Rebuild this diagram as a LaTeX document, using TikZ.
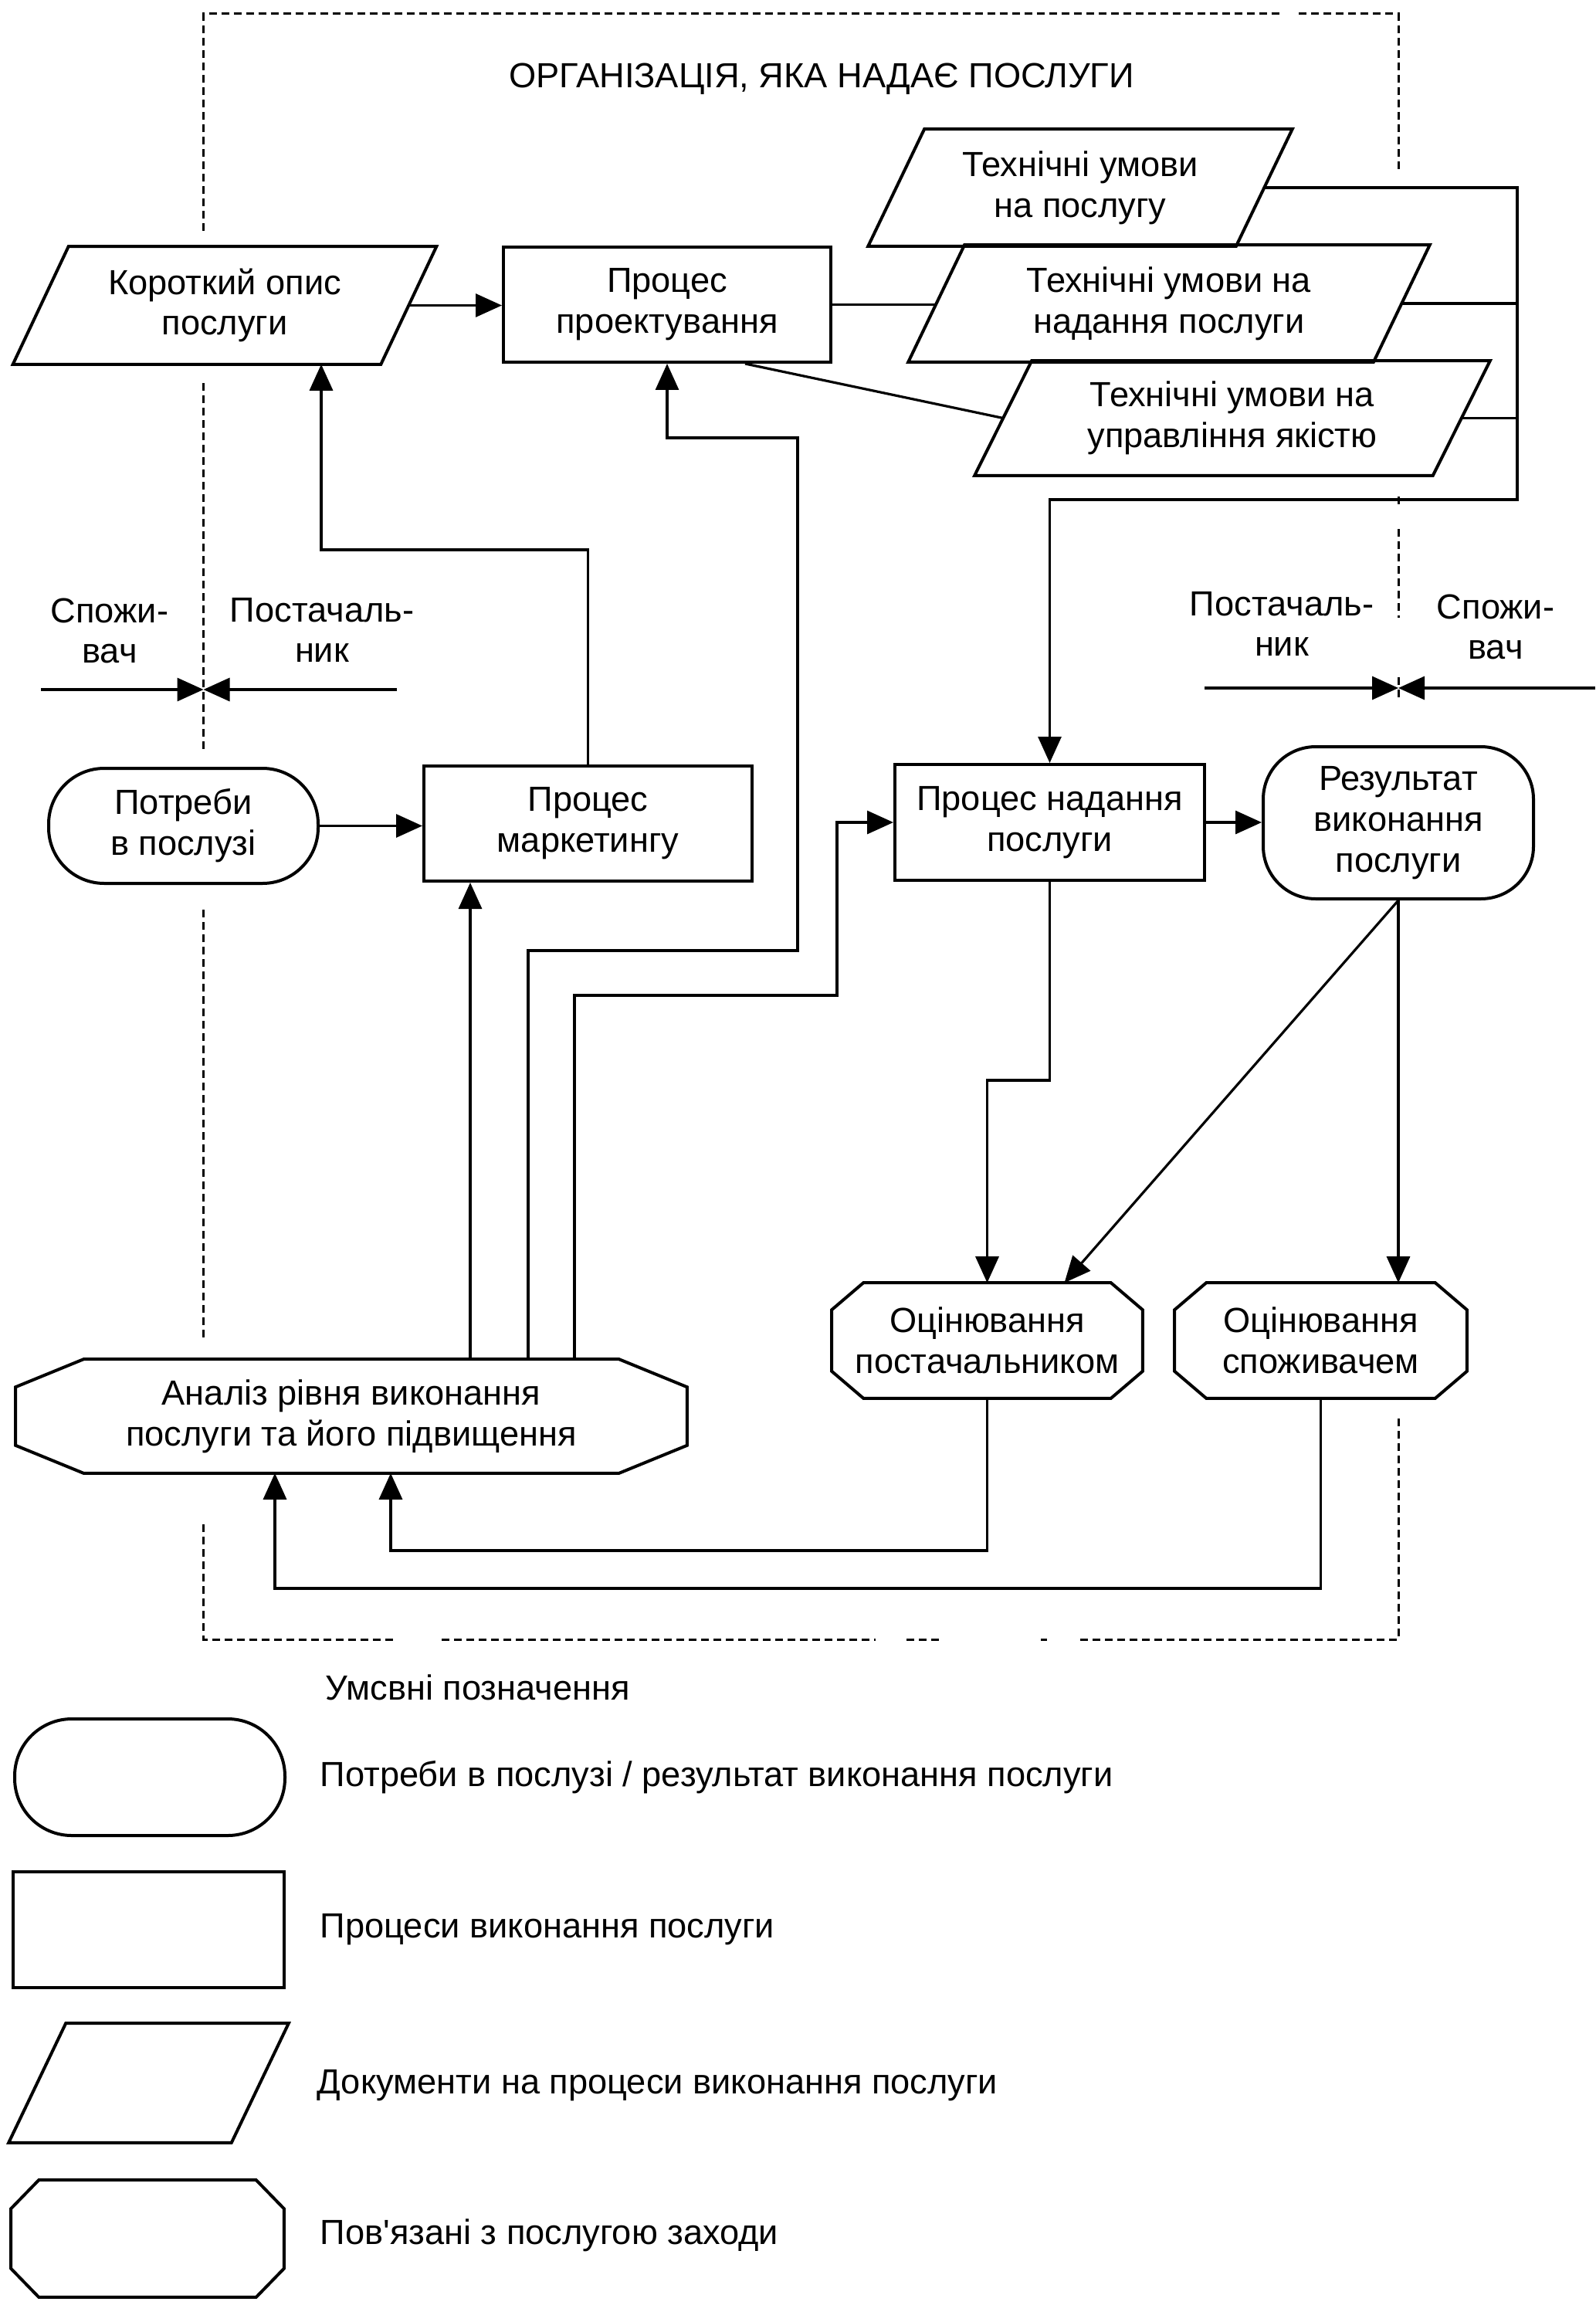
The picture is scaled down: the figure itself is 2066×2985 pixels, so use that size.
\documentclass[tikz,border=0pt]{standalone}
\usepackage{fontspec}
\setmainfont{Liberation Sans}
\usetikzlibrary{arrows.meta}
\newcommand\parashape[2]{\draw[outl] ([xshift=#2]#1.north west) -- ([xshift=#2]#1.north east) -- ([xshift=-#2]#1.south east) -- ([xshift=-#2]#1.south west) -- cycle;}
\newcommand\octshape[3]{\draw[outl] ([xshift=#2]#1.north west) -- ([xshift=-#2]#1.north east) -- ([yshift=-#3]#1.north east) -- ([yshift=#3]#1.south east) -- ([xshift=-#2]#1.south east) -- ([xshift=#2]#1.south west) -- ([yshift=#3]#1.south west) -- ([yshift=-#3]#1.north west) -- cycle;}
\tikzset{
  base/.style={font=\fontsize{11.3pt}{13.2pt}\selectfont, align=center, inner sep=0pt},
  boxn/.style={base, draw, line width=1pt, rectangle},
  stad/.style={base, draw, line width=1pt, rectangle, rounded corners=17pt},
  hid/.style={base, rectangle},
  lbl/.style={base},
  outl/.style={line width=1pt, line join=miter},
  conn/.style={line width=0.8pt},
  arr/.style={conn, -{Triangle[length=8.5pt,width=7.5pt]}},
  frame/.style={line width=0.75pt, dash pattern=on 2.5pt off 1.5pt},
}
\begin{document}
\begin{tikzpicture}[x=0.25pt,y=-0.25pt]
\useasboundingbox (0,0) rectangle (2066,2985);

% ---- main nodes
\node[hid, minimum width=118.75pt, minimum height=37.75pt] (desc) at (291,395.5) {Короткий опис\\послуги};
\node[boxn, minimum width=106pt, minimum height=37.25pt] (design) at (864,394.5) {Процес\\проектування};
\node[hid, minimum width=118.75pt, minimum height=37.5pt] (tu1) at (1399,243) {Технічні умови\\на послугу};
\node[hid, minimum width=150.25pt, minimum height=37.5pt] (tu2) at (1514,393) {Технічні умови на\\надання послуги};
\node[hid, minimum width=148pt, minimum height=36.75pt] (tu3) at (1596,541.5) {Технічні умови на\\управління якістю};
\node[stad, rounded corners=18pt, minimum width=87.25pt, minimum height=37.25pt] (needs) at (237.5,1069.5) {Потреби\\в послузі};
\node[boxn, minimum width=106.25pt, minimum height=37.25pt] (mark) at (761.5,1066.5) {Процес\\маркетингу};
\node[boxn, minimum width=100.25pt, minimum height=37.5pt] (deliv) at (1359.5,1065) {Процес надання\\послуги};
\node[stad, minimum width=87.5pt, minimum height=49.25pt] (result) at (1811,1065.5) {Результат\\виконання\\послуги};
\node[hid, minimum width=100.25pt, minimum height=37pt] (supev) at (1278.5,1736) {Оцінювання\\постачальником};
\node[hid, minimum width=94.25pt, minimum height=37pt] (conev) at (1710.5,1736) {Оцінювання\\споживачем};
\node[hid, minimum width=217pt, minimum height=36.5pt] (anal) at (455,1834) {Аналіз рівня виконання\\послуги та його підвищення};

\parashape{desc}{9pt}
\parashape{tu1}{9.1pt}
\parashape{tu2}{9.1pt}
\parashape{tu3}{9.25pt}
\octshape{supev}{10.25pt}{8.75pt}
\octshape{conev}{10.25pt}{8.75pt}
\octshape{anal}{22pt}{9pt}

% ---- labels
\node[lbl] (title) at (1064,102) {ОРГАНІЗАЦІЯ, ЯКА НАДАЄ ПОСЛУГИ};
\node[lbl] (c1) at (142,817) {Спожи-\\вач};
\node[lbl] (s1) at (417,816) {Постачаль-\\ник};
\node[lbl] (s2) at (1660,808) {Постачаль-\\ник};
\node[lbl] (c2) at (1937,812) {Спожи-\\вач};

% ---- waypoints
\coordinate (w1) at (416,712);
\coordinate (pa) at (609,1500);
\coordinate (pb1) at (684,1231);
\coordinate (pb2) at (1033,567);
\coordinate (pc1) at (744,1289);
\coordinate (pc2) at (1084,1289);
\coordinate (bus1) at (1965,647);
\coordinate (pe) at (506,2008);
\coordinate (pf) at (356,2057);
\coordinate (bl0) at (53,893);
\coordinate (blm) at (263.5,893);
\coordinate (bl1) at (514,893);
\coordinate (br0) at (1560,891);
\coordinate (brm) at (1811,891);
\coordinate (br1) at (2066,891);

% ---- connectors
\draw[arr] (desc.east) -- (desc.east -| design.west);
\draw[arr] (mark.north) |- (w1) -- (desc.south -| w1);
\draw[arr] (anal.north -| pb1) -- (pb1) -| (pb2) -| (design.south);
\draw[arr] (anal.north -| pa) -- (mark.south -| pa);
\draw[arr] (anal.north -| pc1) -- (pc1) -- (pc2) |- (deliv.west);
\draw[arr] (needs.east) -- (needs.east -| mark.west);
\draw[conn] (design.east) -- (design.east -| tu2.west);
\draw[conn] ([xshift=25.25pt]design.south) -- (tu3.west);
\draw[arr] (tu1.east) -| (bus1) -| (deliv.north);
\draw[conn] (tu2.east) -- (tu2.east -| bus1);
\draw[conn] (tu3.east) -- (tu3.east -| bus1);
\draw[arr] (deliv.east) -- (deliv.east -| result.west);
\draw[arr] (deliv.south) -- ++(0,257) -| (supev.north);
\draw[arr] (result.south) -- ([xshift=25pt]supev.north);
\draw[arr] (result.south) -- (result.south |- conev.north);
\draw[arr] (supev.south) |- (pe) -- (anal.south -| pe);
\draw[arr] (conev.south) |- (pf) -- (anal.south -| pf);
\draw[arr] (bl0) -- (blm);
\draw[arr] (bl1) -- (blm);
\draw[arr] (br0) -- (brm);
\draw[arr] (br1) -- (brm);

% ---- dashed frame
\draw[frame] (263.5,299) -- (263.5,18) -- (1660,18);
\draw[frame] (1682,18) -- (1811,18) -- (1811,219);
\draw[frame] (263.5,496) -- (263.5,970);
\draw[frame] (263.5,1178) -- (263.5,1735);
\draw[frame] (263.5,1974) -- (263.5,2123) -- (510,2123);
\draw[frame] (572,2123) -- (1134,2123);
\draw[frame] (1174,2123) -- (1220,2123);
\draw[frame] (1348,2123) -- (1356,2123);
\draw[frame] (1399,2123) -- (1811,2123) -- (1811,1833);
\draw[frame] (1811,643) -- (1811,657);
\draw[frame] (1811,685) -- (1811,800);
\draw[frame] (1811,877) -- (1811,905);

% ---- legend
\node[lbl, anchor=west] (legh) at (421,2185) {Умсвні позначення};
\node[stad, rounded corners=18.5pt, minimum width=87.5pt, minimum height=37.75pt] (leg1) at (194,2301.5) {};
\node[boxn, minimum width=87.75pt, minimum height=37.5pt] (leg2) at (192.5,2499) {};
\node[hid, minimum width=71.75pt, minimum height=38.25pt] (leg3) at (192.5,2697.5) {};
\node[hid, minimum width=88pt, minimum height=37.5pt] (leg4) at (191,2899) {};
\parashape{leg3}{9.25pt}
\octshape{leg4}{9pt}{9.25pt}
\node[lbl, anchor=west] (legt1) at (414,2302) {Потреби в послузі / результат виконання послуги};
\node[lbl, anchor=west] (legt2) at (414,2499) {Процеси виконання послуги};
\node[lbl, anchor=west] (legt3) at (410,2701) {Документи на процеси виконання послуги};
\node[lbl, anchor=west] (legt4) at (414,2895) {Пов\textquotesingle язані з послугою заходи};
\end{tikzpicture}
\end{document}
